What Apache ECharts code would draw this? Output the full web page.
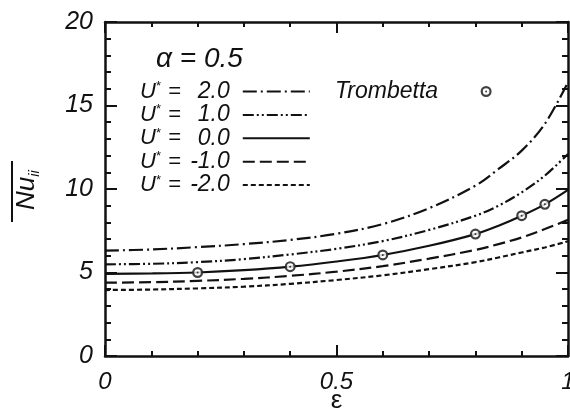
<!DOCTYPE html>
<html>
<head>
<meta charset="utf-8">
<script src="https://cdn.jsdelivr.net/npm/echarts@6/dist/echarts.min.js"></script>
<style>
  html, body { margin: 0; padding: 0; background: #fff; }
  #chart { width: 570px; height: 414px; }
</style>
</head>
<body>
<div id="chart"></div>
<script>
// Mean Nusselt number versus eccentricity for several U* values (alpha = 0.5)
const eps    = [0, 0.1, 0.2, 0.3, 0.4, 0.5, 0.6, 0.7, 0.8, 0.85, 0.9, 0.95, 1.0];
const nuU2   = [6.31, 6.38, 6.52, 6.70, 6.95, 7.32, 7.90, 8.85, 10.2, 11.2, 12.3, 13.9, 16.4];
const nuU1   = [5.49, 5.52, 5.62, 5.80, 6.08, 6.42, 6.88, 7.55, 8.40, 9.00, 9.80, 10.8, 12.1];
const nuU0   = [4.92, 4.94, 5.00, 5.14, 5.35, 5.66, 6.05, 6.60, 7.30, 7.80, 8.40, 9.08, 9.95];
const nuUm1  = [4.39, 4.42, 4.50, 4.62, 4.80, 5.05, 5.38, 5.83, 6.35, 6.70, 7.10, 7.60, 8.15];
const nuUm2  = [3.95, 3.98, 4.05, 4.15, 4.32, 4.55, 4.83, 5.20, 5.62, 5.90, 6.20, 6.50, 6.87];

// Trombetta reference solution (U* = 0)
const trombettaEps = [0.2, 0.4, 0.6, 0.8, 0.9, 0.95];
const trombettaNu  = [5.00, 5.35, 6.05, 7.30, 8.40, 9.08];

// U* values shown in the legend, one per curve
const uStarLabels = ['2.0', '1.0', '0.0', '-1.0', '-2.0'];
const curveValues = [nuU2, nuU1, nuU0, nuUm1, nuUm2];
const curveDashes = [[14, 4, 2, 4], [11, 3, 2, 3, 2, 3], 'solid', [12, 5], [5, 3]];

const INK = '#111';
const FONT = 'Liberation Sans';

// open ring with a centre dot
const ringSymbol = 'path://M0,-5A5,5,0,1,1,0,5A5,5,0,1,1,0,-5Z' +
  'M0,-3A3,3,0,1,0,0,3A3,3,0,1,0,0,-3Z' +
  'M0,-0.9A0.9,0.9,0,1,1,0,0.9A0.9,0.9,0,1,1,0,-0.9Z';

const pairs = (xs, ys) => xs.map((x, i) => [x, ys[i]]);

const axisLine = { show: true, onZero: false, lineStyle: { color: INK, width: 2.5 } };
const labelStyle = { fontFamily: FONT, fontStyle: 'italic', fontSize: 24, color: INK };

const lineSeries = uStarLabels.map((name, k) => ({
  type: 'line',
  name: name,
  data: pairs(eps, curveValues[k]),
  smooth: 0.35,
  symbol: 'none',
  lineStyle: { color: INK, width: 2.2, type: curveDashes[k] },
  itemStyle: { color: INK },
  z: 2
}));

const chart = echarts.init(document.getElementById('chart'), null, { renderer: 'canvas' });

chart.setOption({
  backgroundColor: '#fff',
  animation: false,
  title: {
    text: 'α = 0.5',
    left: 151,
    top: 40,
    textStyle: { fontFamily: FONT, fontStyle: 'italic', fontWeight: 'normal', fontSize: 28, color: INK }
  },
  grid: { left: 105, right: 2, top: 22, bottom: 58, containLabel: false, outerBoundsMode: 'none' },
  xAxis: [{
    type: 'value', position: 'bottom', min: 0, max: 1, interval: 0.5,
    name: 'ε', nameLocation: 'middle', nameGap: 32, nameMoveOverlap: false,
    nameTextStyle: { fontFamily: FONT, fontSize: 26, color: INK },
    axisLine: axisLine,
    axisTick: { inside: true, length: 11, lineStyle: { color: INK, width: 2 } },
    minorTick: { show: true, splitNumber: 5, length: 5, lineStyle: { color: INK, width: 2 } },
    axisLabel: Object.assign({ margin: 14 }, labelStyle),
    splitLine: { show: false }
  }, {
    type: 'value', position: 'top', min: 0, max: 1, interval: 0.5,
    axisLine: axisLine,
    axisTick: { inside: true, length: 11, lineStyle: { color: INK, width: 2 } },
    minorTick: { show: true, splitNumber: 5, length: 5, lineStyle: { color: INK, width: 2 } },
    axisLabel: { show: false },
    splitLine: { show: false }
  }],
  yAxis: [{
    type: 'value', position: 'left', min: 0, max: 20, interval: 5,
    axisLine: axisLine,
    axisTick: { inside: true, length: 12, lineStyle: { color: INK, width: 2 } },
    minorTick: { show: true, splitNumber: 5, length: 6, lineStyle: { color: INK, width: 2 } },
    axisLabel: Object.assign({ margin: 12 }, labelStyle, { fontSize: 25 }),
    splitLine: { show: false }
  }, {
    type: 'value', position: 'right', min: 0, max: 20, interval: 5,
    axisLine: axisLine,
    axisTick: { inside: true, length: 12, lineStyle: { color: INK, width: 2 } },
    minorTick: { show: true, splitNumber: 5, length: 6, lineStyle: { color: INK, width: 2 } },
    axisLabel: { show: false },
    splitLine: { show: false }
  }],
  legend: [{
    data: uStarLabels,
    orient: 'vertical',
    left: 135,
    top: 75,
    align: 'right',
    itemWidth: 67,
    itemHeight: 10,
    itemGap: 0.4,
    selectedMode: false,
    itemStyle: { opacity: 0 },
    formatter: v => `{u|U}{s|*}{e|=}{v|${v}}`,
    textStyle: {
      padding: [0, 8, 0, 0],
      rich: {
        u: { fontFamily: FONT, fontStyle: 'italic', fontSize: 22, color: INK, lineHeight: 23 },
        s: { fontFamily: FONT, fontSize: 13, color: INK, lineHeight: 23, verticalAlign: 'top' },
        e: { fontFamily: FONT, fontStyle: 'italic', fontSize: 22, color: INK, lineHeight: 23, padding: [0, 0, 0, 7] },
        v: { fontFamily: FONT, fontStyle: 'italic', fontSize: 23, color: INK, lineHeight: 23, width: 49, align: 'right' }
      }
    }
  }, {
    data: ['Trombetta'],
    orient: 'vertical',
    left: 330,
    top: 75,
    align: 'right',
    itemWidth: 86,
    itemHeight: 11,
    selectedMode: false,
    textStyle: { fontFamily: FONT, fontStyle: 'italic', fontSize: 23, color: INK, lineHeight: 23 }
  }],
  graphic: [{
    type: 'text',
    x: 27, y: 190,
    rotation: Math.PI / 2,
    style: {
      text: '{n|Nu}{s|ii}',
      align: 'center',
      verticalAlign: 'middle',
      rich: {
        n: { fontFamily: FONT, fontStyle: 'italic', fontSize: 26, fill: INK, lineHeight: 30 },
        s: { fontFamily: FONT, fontStyle: 'italic', fontSize: 15, fill: INK, lineHeight: 30, verticalAlign: 'bottom' }
      }
    }
  }, {
    type: 'rect',
    shape: { x: 11, y: 161, width: 2, height: 61 },
    style: { fill: INK }
  }],
  series: lineSeries.concat([{
    type: 'scatter',
    name: 'Trombetta-fill',
    data: pairs(trombettaEps, trombettaNu),
    symbol: 'circle',
    symbolSize: 10,
    itemStyle: { color: '#fff' },
    z: 3
  }, {
    type: 'scatter',
    name: 'Trombetta',
    data: pairs(trombettaEps, trombettaNu),
    symbol: ringSymbol,
    symbolSize: 11,
    itemStyle: { color: INK },
    z: 4
  }])
});
</script>
</body>
</html>
